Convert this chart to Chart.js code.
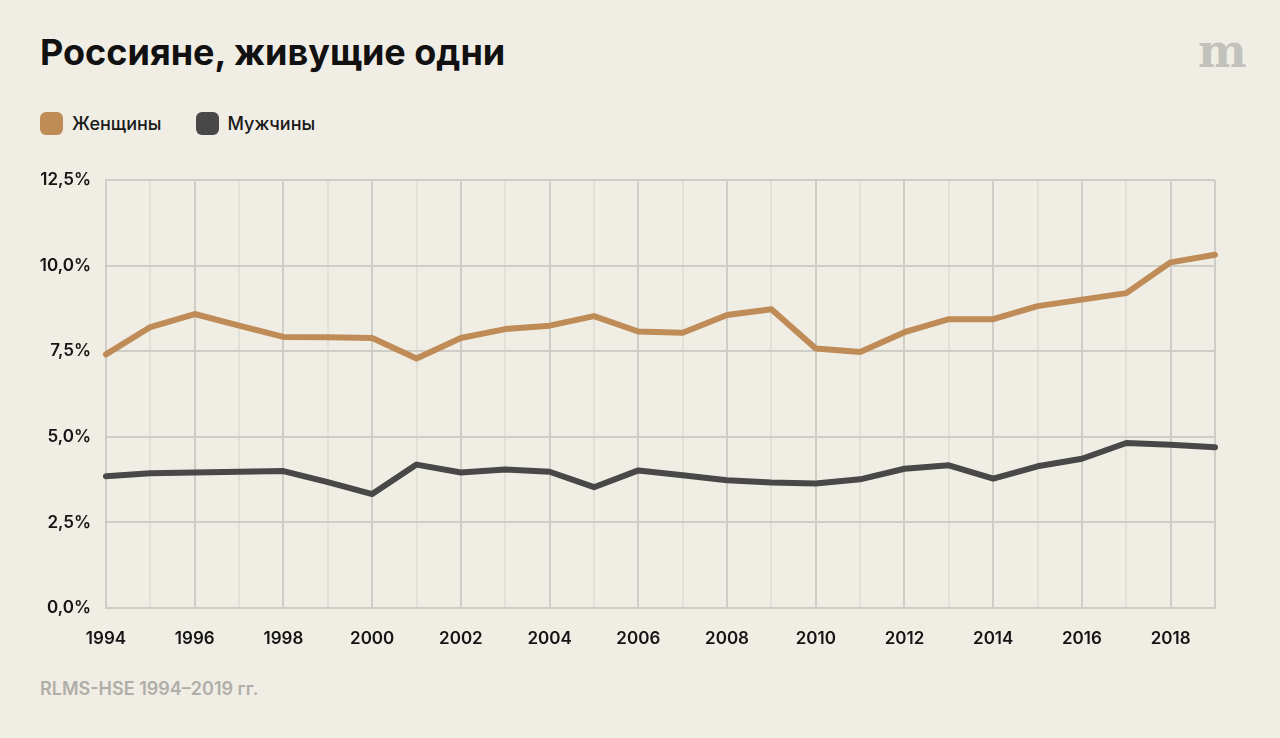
<!DOCTYPE html>
<html lang="ru">
<head>
<meta charset="utf-8">
<script src="https://cdn.jsdelivr.net/npm/chart.js@4/dist/chart.umd.min.js"></script>
<style>
  html, body { margin: 0; padding: 0; background: #f0ede5; }
  body { width: 1280px; height: 738px; position: relative; overflow: hidden; font-family: Inter, "Noto Sans", sans-serif; }
  #title { position: absolute; left: 40px; top: 30px; font-size: 36px; font-weight: 700; color: #111; white-space: nowrap; }
  #logo { position: absolute; left: 1198px; top: 24px; font-family: "DejaVu Serif", serif; font-size: 46px; font-weight: 700; color: #c3c1bb; letter-spacing: -2px; }
  #legend { position: absolute; left: 40px; top: 112px; display: flex; align-items: center; }
  .item { display: flex; align-items: center; margin-right: 34px; }
  .sw { width: 23px; height: 23px; border-radius: 6px; margin-right: 9px; }
  .lab { font-size: 18px; font-weight: 500; color: #1a1a1a; }
  #source { position: absolute; left: 40px; top: 678px; font-size: 18px; font-weight: 600; color: #b0aea8; }
  #wrap { position: absolute; left: 0; top: 155px; width: 1280px; height: 505px; }
  #c { display: block; }
</style>
</head>
<body>
<div id="title">Россияне, живущие одни</div>
<div id="logo">m</div>
<div id="legend"></div>
<div id="source">RLMS-HSE 1994–2019 гг.</div>
<div id="wrap"><canvas id="c" width="1280" height="505"></canvas></div>
<script>
const years = [1994,1995,1996,1997,1998,1999,2000,2001,2002,2003,2004,2005,2006,2007,2008,2009,2010,2011,2012,2013,2014,2015,2016,2017,2018,2019];
const women = [7.41,8.21,8.59,8.25,7.92,7.91,7.89,7.29,7.89,8.15,8.25,8.53,8.08,8.04,8.56,8.73,7.58,7.48,8.06,8.44,8.44,8.82,9.01,9.20,10.10,10.32];
const men   = [3.85,3.94,3.96,3.98,4.00,3.68,3.33,4.19,3.96,4.05,3.98,3.53,4.02,3.88,3.73,3.67,3.64,3.76,4.07,4.17,3.78,4.14,4.36,4.82,4.77,4.70];
const seriesNames = ["Женщины","Мужчины"];
const seriesColors = ["#bf8c57","#484848"];
const yTicks = [0, 2.5, 5, 7.5, 10, 12.5];

const MAJOR = "#cfcdc8";
const MINOR = "#e2e0d9";

const leg = document.getElementById('legend');
seriesNames.forEach((n,i)=>{
  const it = document.createElement('div'); it.className='item';
  const sw = document.createElement('div'); sw.className='sw'; sw.style.background=seriesColors[i];
  const lb = document.createElement('div'); lb.className='lab'; lb.textContent=n;
  it.appendChild(sw); it.appendChild(lb); leg.appendChild(it);
});

new Chart(document.getElementById('c'), {
  type: 'line',
  data: {
    labels: years,
    datasets: [
      { label: seriesNames[0], data: women, borderColor: seriesColors[0], borderWidth: 6, pointRadius: 0, tension: 0, borderCapStyle: 'round', borderJoinStyle: 'round' },
      { label: seriesNames[1], data: men, borderColor: seriesColors[1], borderWidth: 6, pointRadius: 0, tension: 0, borderCapStyle: 'round', borderJoinStyle: 'round' }
    ]
  },
  options: {
    responsive: false,
    animation: false,
    events: [],
    layout: { padding: { left: 0, right: 65, top: 14, bottom: 0 } },
    plugins: { legend: { display: false }, tooltip: { enabled: false }, title: { display: false } },
    scales: {
      x: {
        type: 'category',
        offset: false,
        grid: {
          drawTicks: false,
          lineWidth: 2,
          color: ctx => {
            const v = years[ctx.index];
            return (v % 2 === 0 || v === 2019) ? MAJOR : MINOR;
          }
        },
        border: { color: MAJOR, width: 2 },
        ticks: {
          autoSkip: false,
          maxRotation: 0,
          padding: 21,
          color: "#151515",
          font: { family: "Inter", size: 17, weight: 600 },
          callback: function(val, idx) { const y = years[idx]; return y % 2 === 0 ? String(y) : ''; }
        },
        afterFit: s => { s.height = 52; }
      },
      y: {
        min: 0, max: 12.5,
        afterBuildTicks: s => { s.ticks = yTicks.map(v => ({ value: v })); },
        grid: { drawTicks: false, lineWidth: 2, color: MAJOR },
        border: { color: MAJOR, width: 2 },
        ticks: {
          padding: 15,
          color: "#151515",
          font: { family: "Inter", size: 17, weight: 600 },
          callback: v => v.toFixed(1).replace('.', ',') + '%'
        },
        afterFit: s => { s.width = 106; }
      }
    }
  }
});
</script>
</body>
</html>
